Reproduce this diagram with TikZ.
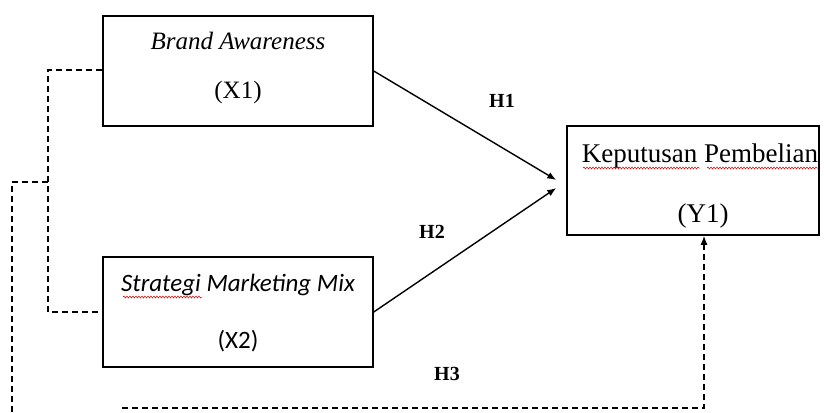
\documentclass[tikz,border=0pt]{standalone}
\usepackage{fontspec}
\setmainfont{Liberation Serif}
\newfontfamily\calibrifont{Carlito}
\usetikzlibrary{arrows.meta,decorations.pathmorphing}
\begin{document}
\begin{tikzpicture}[x=1pt,y=-1pt,
  box/.style={draw,line width=1.5pt,minimum width=270pt,minimum height=110pt,inner sep=0pt},
  ybox/.style={draw,line width=1.5pt,minimum width=252pt,minimum height=109pt,inner sep=0pt},
  dline/.style={line width=1.3pt,dash pattern=on 6pt off 4pt},
  sline/.style={line width=1.4pt},
  tip/.style={-{Latex[length=9pt,width=7pt]}},
  ttl/.style={anchor=base,inner sep=0pt,font=\fontsize{25}{30}\selectfont},
  yttl/.style={anchor=base,inner sep=0pt,font=\fontsize{27}{32}\selectfont},
  hlab/.style={anchor=base,inner sep=0pt,font=\fontsize{20}{24}\selectfont\bfseries},
  squig/.style={red!80!black,line width=0.5pt,decorate,decoration={snake,amplitude=1pt,segment length=3pt}}]
\useasboundingbox (0,0) rectangle (824,412);
% boxes
\node[box] (x1) at (238,71) {};
\node[box] (x2) at (238,312) {};
\node[ybox] (y1) at (693,180.5) {};
% texts
\node[ttl] (t1) at (238,50) {\itshape Brand Awareness};
\node[ttl] (t1b) at (238,98) {(X1)};
\node[ttl] (t2) at (238,291) {\calibrifont\itshape Strategi Marketing Mix};
\node[ttl] (t2b) at (238,348) {\calibrifont (X2)};
\node[yttl] (t3) at (700,162) {Keputusan Pembelian};
\node[yttl] (t3b) at (703,222) {(Y1)};
% squiggles
\draw[squig] (123,297) -- (202,297);
\draw[squig] (583,168) -- (700,168);
\draw[squig] (707,168) -- (818,168);
% labels
\node[hlab] (h1) at (502,107) {H1};
\node[hlab] (h2) at (432,238) {H2};
\node[hlab] (h3) at (447,380) {H3};
% solid arrows
\draw[sline,tip] (x1.east) -- ([xshift=-10pt,yshift=0.5pt]y1.west);
\draw[sline,tip] (x2.east) -- ([xshift=-10pt,yshift=-7.5pt]y1.west);
% dashed connectors
\coordinate (c1) at (48,70);
\coordinate (c2) at (48,312);
\coordinate (c3) at (48,182);
\coordinate (c4) at (12,182);
\coordinate (c5) at (12,412);
\coordinate (c6) at (122,408);
\coordinate (c7) at (704,408);
\draw[dline] ([yshift=1pt]x1.west) -- (c1) -- (c2) -- (x2.west);
\draw[dline] (c3) -- (c4) -- (c5);
\draw[dline,tip] (c6) -- (c7) -- ([xshift=11pt]y1.south);
\end{tikzpicture}
\end{document}
